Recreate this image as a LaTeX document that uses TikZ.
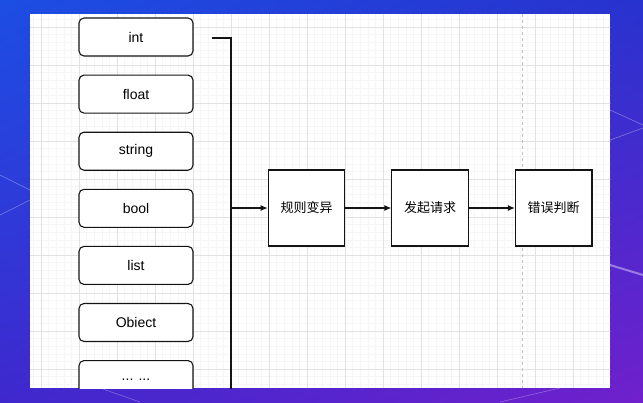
\documentclass[tikz,border=0pt]{standalone}
\usepackage{fontspec}
\setmainfont{Liberation Sans}
\newfontfamily\cjk{Noto Sans CJK SC}
\usepackage{tikz}
\usetikzlibrary{positioning}
\usetikzlibrary{arrows.meta,shadings}
\usepackage{xcolor}
\definecolor{bgblue}{RGB}{28,78,228}
\definecolor{bgtop}{RGB}{40,50,206}
\definecolor{bgleft}{RGB}{62,40,205}
\definecolor{bgpurple}{RGB}{112,32,204}
\definecolor{gridminor}{RGB}{246,246,246}
\definecolor{gridmajor}{RGB}{226,226,226}
\definecolor{guide}{RGB}{190,190,190}
\definecolor{ink}{RGB}{20,20,20}

\begin{document}
\begin{tikzpicture}
[x=1pt, y=-1pt, >={Latex[length=7pt,width=6pt]},
% The type style is used to draw the input data types
typebox/.style={rectangle, rounded corners=5pt, draw=ink, line width=1.1pt, fill=white, minimum width=114pt, minimum height=38pt, inner sep=0pt, font=\fontsize{14}{16}\selectfont},
% The stepbox style is used to draw each stage of the test
stepbox/.style={rectangle, draw=ink, line width=1.1pt, fill=white, minimum width=76.5pt, minimum height=76pt, inner sep=0pt, font=\fontsize{13}{15}\selectfont\cjk},
% The link style is used for the connectors
link/.style={draw=ink, line width=1.1pt}
]
\useasboundingbox (0,0) rectangle (643,402);
% Background
\shade[upper left=bgblue, upper right=bgtop, lower left=bgleft, lower right=bgpurple] (0,0) rectangle (643,402);
\draw[white, opacity=0.35, line width=0.6pt] (0,215) -- (30,200);
\draw[white, opacity=0.35, line width=0.6pt] (0,175) -- (30,190);
\draw[white, opacity=0.35, line width=0.6pt] (610,110) -- (643,125);
\draw[white, opacity=0.35, line width=0.6pt] (610,140) -- (643,128);
\draw[white, opacity=0.4, line width=2pt] (610,265) -- (643,275);
\draw[white, opacity=0.3, line width=0.6pt] (100,388) -- (140,402);
\draw[white, opacity=0.3, line width=0.6pt] (500,402) -- (560,388);
% Panel
\fill[white] (30,14) rectangle (610,388);
\begin{scope}
\clip (30,14) rectangle (610,388);
\begin{scope}[shift={(41,27)}]
\draw[gridminor, line width=0.4pt, step=7.6pt] (-12,-14) grid (570,361);
\draw[gridmajor, line width=0.5pt, step=38pt] (-12,-14) grid (570,361);
\end{scope}
\draw[guide, dashed, line width=0.8pt] (522,14) -- (522,388);

% Draw data types
\node [typebox] (int) at (136,37) {int};
\node [typebox, below=18pt of int] (float) {float};
\node [typebox, below=18pt of float] (string) {string};
\node [typebox, below=18pt of string] (bool) {bool};
\node [typebox, below=18pt of bool] (list) {list};
\node [typebox, below=18pt of list] (object) {Obiect};
\node [typebox, below=18pt of object] (more) {... ...};

% Draw stages
\node [stepbox] (mutate) at (306.5,208) {规则变异};
\node [stepbox, right=46pt of mutate] (request) {发起请求};
\node [stepbox, right=46pt of request] (judge) {错误判断};

\coordinate (busstart) at (212,38);
\coordinate (buscorner) at (231,38);
\coordinate (busend) at (231,395);
\coordinate (busout) at (231,208);
\draw[link] (busstart) -- (buscorner) -- (busend);
\draw[link, ->] (busout) -- (mutate);
\draw[link, ->] (mutate) -- (request);
\draw[link, ->] (request) -- (judge);
\end{scope}
\end{tikzpicture}
\end{document}
